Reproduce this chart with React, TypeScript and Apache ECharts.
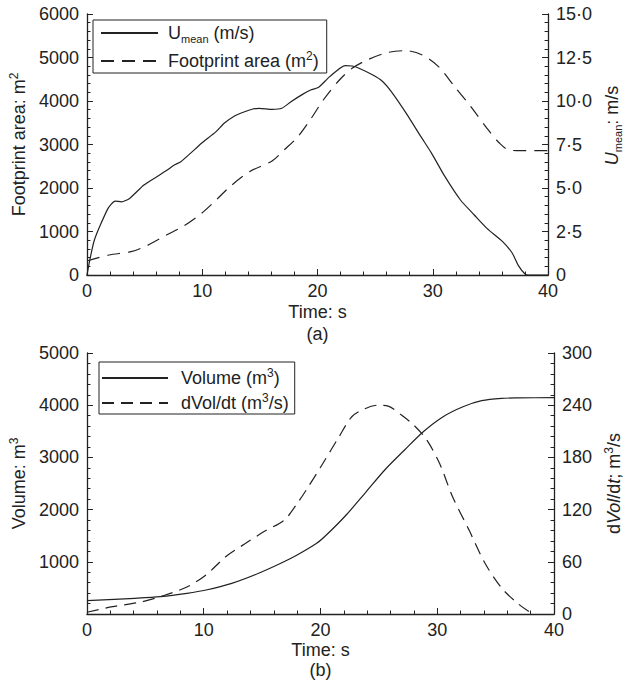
import React, { useEffect, useRef } from 'react';
import * as echarts from 'echarts';

// (a) mean velocity, m/s (right axis)
const uTime = [0, 0.64, 1.83, 2.44, 3.0, 3.7, 4.94, 6.06, 6.9, 7.58, 8.14, 8.97, 9.94, 11.2, 11.9, 12.7, 13.56, 14.4, 14.94, 16.06, 16.9, 17.7, 18.7, 19.4, 20.1, 21.06, 22.4, 23.0, 23.6, 24.8, 25.6, 26.4, 27.7, 28.97, 29.9, 31.06, 32.4, 33.6, 34.7, 36.06, 36.9, 37.4, 38.0, 38.3, 40];
const uValues = [0, 2.0, 3.83, 4.25, 4.2, 4.4, 5.17, 5.65, 6.0, 6.32, 6.51, 6.99, 7.57, 8.24, 8.72, 9.1, 9.35, 9.54, 9.58, 9.52, 9.58, 9.96, 10.38, 10.63, 10.79, 11.4, 12.03, 12.01, 11.88, 11.49, 11.15, 10.54, 9.29, 7.95, 6.99, 5.65, 4.31, 3.45, 2.68, 1.92, 1.25, 0.57, 0.06, 0, 0];

// (a) footprint area, m2 (left axis)
const areaTime = [0, 1.9, 3.83, 5.2, 6.9, 8.3, 9.94, 11.06, 12.4, 14.1, 16.06, 17.1, 18.3, 19.5, 20.5, 21.9, 23.0, 24.3, 26.0, 27.7, 29.1, 30.5, 31.9, 33.3, 34.7, 35.8, 36.6, 37.7, 40];
const areaValues = [322, 460, 536, 674, 920, 1111, 1418, 1686, 2030, 2375, 2621, 2874, 3180, 3620, 4023, 4483, 4751, 4943, 5110, 5157, 5057, 4789, 4329, 3869, 3372, 3028, 2874, 2858, 2858];

// (b) volume, m3 (left axis)
const volTime = [0, 4.1, 6.3, 8.56, 10.2, 12.4, 14.7, 16.6, 18, 19.67, 20.5, 22.2, 23.8, 25.5, 27.2, 28.8, 30.5, 32.2, 33.8, 35.5, 37, 40];
const volValues = [255, 300, 332, 396, 460, 588, 780, 971, 1130, 1354, 1513, 1897, 2312, 2759, 3142, 3492, 3780, 3971, 4086, 4132, 4140, 4144];

// (b) dVol/dt, m3/s (right axis)
const rateTime = [0, 2.2, 4.7, 6.3, 8.56, 10.2, 11.9, 13.56, 15.2, 16.9, 18, 18.8, 20.2, 21.6, 22.7, 23.8, 24.9, 25.8, 26.9, 28, 29.1, 30.2, 31.3, 32.7, 34.1, 35.5, 36.9, 38, 38.3];
const rateValues = [2, 8.4, 14, 20, 31, 45, 66, 81, 95, 108, 127, 143, 173, 204, 227, 236, 240, 239, 229, 217, 200, 173, 135, 97, 58, 30, 12, 1.5, 0];

const xTicks = [0, 10, 20, 30, 40];

const zip = (a: number[], b: number[]) => a.map((t, i) => [t, b[i]]);

const FONT = '"Liberation Sans", Arial, Helvetica, sans-serif';
const INK = '#222';

const rich = {
  n: { fontSize: 18, fontFamily: FONT, color: INK, lineHeight: 22 },
  i: { fontSize: 18, fontFamily: FONT, color: INK, lineHeight: 22, fontStyle: 'italic' },
  sup: { fontSize: 12, fontFamily: FONT, color: INK, lineHeight: 12, verticalAlign: 'top' },
  sub: { fontSize: 11, fontFamily: FONT, color: INK, lineHeight: 11, verticalAlign: 'bottom' },
};

const legendNames: Record<string, string> = {
  'U_mean': '{n|U}{sub|mean}{n| (m/s)}',
  'Footprint area': '{n|Footprint area (m}{sup|2}{n|)}',
  'Volume': '{n|Volume (m}{sup|3}{n|)}',
  'dVol/dt': '{n|dVol/dt (m}{sup|3}{n|/s)}',
};

function xAxis(gridIndex: number, name: string, gap: number, lh: number) {
  return {
    type: 'value', gridIndex, min: 0, max: 40, interval: 10,
    axisLine: { show: true, lineStyle: { color: INK, width: 1.3 } },
    axisTick: { show: true, inside: true, length: 6, lineStyle: { color: INK } },
    minorTick: { show: true, splitNumber: 5, length: 3.5, lineStyle: { color: INK } },
    splitLine: { show: false },
    axisLabel: { color: INK, fontSize: 18, fontFamily: FONT, margin: 7, formatter: (v: number) => (xTicks.includes(v) ? String(v) : '') },
    name, nameLocation: 'middle', nameGap: gap,
    nameTextStyle: { color: INK, fontSize: 18, fontFamily: FONT, lineHeight: lh },
  };
}

function yAxis(gridIndex: number, position: string, min: number, max: number, interval: number, fmt: (v: number) => string, name: string, gap: number, pad: number[] = [0, 0, 0, 0]) {
  return {
    type: 'value', gridIndex, position, min, max, interval,
    axisLine: { show: true, lineStyle: { color: INK, width: 1.3 } },
    axisTick: { show: true, inside: true, length: 6, lineStyle: { color: INK } },
    minorTick: { show: true, splitNumber: 5, length: 3.5, lineStyle: { color: INK } },
    splitLine: { show: false },
    axisLabel: { color: INK, fontSize: 18, fontFamily: FONT, margin: 8, formatter: fmt },
    name, nameLocation: 'middle', nameGap: gap, nameRotate: 90,
    nameTextStyle: { rich, padding: pad },
  };
}

const dotFmt = (v: number) => (v === 0 ? '0' : v.toFixed(1).replace('.', '·'));

export default function App() {
  const ref = useRef<HTMLDivElement>(null);
  useEffect(() => {
    if (!ref.current) return;
    const chart = echarts.init(ref.current, undefined, { renderer: 'svg' });
    const hidden = { color: 'rgba(0,0,0,0)', borderColor: 'rgba(0,0,0,0)', borderWidth: 0, opacity: 0 };
    chart.setOption({
      animation: false,
      backgroundColor: '#fff',
      grid: [
        { left: 84, top: 14, width: 480, height: 261 },
        { left: 84, top: 353, width: 480, height: 261 },
      ],
      legend: [
        {
          data: ['U_mean', 'Footprint area'],
          orient: 'vertical', left: 93, top: 20,
          borderColor: INK, borderWidth: 1, padding: [4, 8, 3, 7],
          itemWidth: 57, itemHeight: 14, itemGap: 6,
          itemStyle: hidden,
          formatter: (n: string) => legendNames[n],
          textStyle: { rich, padding: [0, 0, 0, 5] },
        },
        {
          data: ['Volume', 'dVol/dt'],
          orient: 'vertical', left: 99, top: 362,
          borderColor: INK, borderWidth: 1, padding: [5, 6, 2, 2],
          itemWidth: 66, itemHeight: 14, itemGap: 5,
          itemStyle: hidden,
          formatter: (n: string) => legendNames[n],
          textStyle: { rich, padding: [0, 0, 0, 8] },
        },
      ],
      xAxis: [xAxis(0, 'Time: s\n(a)', 24, 22), xAxis(1, 'Time: s\n(b)', 20, 20)],
      yAxis: [
        yAxis(0, 'left', 0, 6000, 1000, (v) => String(v), '{n|Footprint area: m}{sup|2}', 48),
        yAxis(0, 'right', 0, 15, 2.5, dotFmt, '{i|U}{sub|mean}{n|: m/s}', 44, [0, 0, 0, 38]),
        yAxis(1, 'left', 0, 5000, 1000, (v) => (v === 0 ? '' : String(v)), '{n|Volume: m}{sup|3}', 48),
        yAxis(1, 'right', 0, 300, 60, (v) => String(v), '{n|d}{i|Vol}{n|/d}{i|t}{n|; m}{sup|3}{n|/s}', 48),
      ],
      series: [
        {
          name: 'U_mean', type: 'line', xAxisIndex: 0, yAxisIndex: 1, data: zip(uTime, uValues),
          showSymbol: false, symbol: 'none', smooth: 0.2,
          lineStyle: { color: INK, width: 1.2, type: 'solid' }, itemStyle: { color: INK },
        },
        {
          name: 'Footprint area', type: 'line', xAxisIndex: 0, yAxisIndex: 0, data: zip(areaTime, areaValues),
          showSymbol: false, symbol: 'none', smooth: 0.3,
          lineStyle: { color: INK, width: 1.2, type: [13, 8] }, itemStyle: { color: INK },
        },
        {
          name: 'Volume', type: 'line', xAxisIndex: 1, yAxisIndex: 2, data: zip(volTime, volValues),
          showSymbol: false, symbol: 'none', smooth: 0.3,
          lineStyle: { color: INK, width: 1.2, type: 'solid' }, itemStyle: { color: INK },
        },
        {
          name: 'dVol/dt', type: 'line', xAxisIndex: 1, yAxisIndex: 3, data: zip(rateTime, rateValues),
          showSymbol: false, symbol: 'none', smooth: 0.3,
          lineStyle: { color: INK, width: 1.2, type: [12, 7] }, itemStyle: { color: INK },
        },
      ],
    });
    return () => chart.dispose();
  }, []);
  return <div ref={ref} style={{ position: 'fixed', left: 0, top: 0, width: 631, height: 686, background: '#fff' }} />;
}
